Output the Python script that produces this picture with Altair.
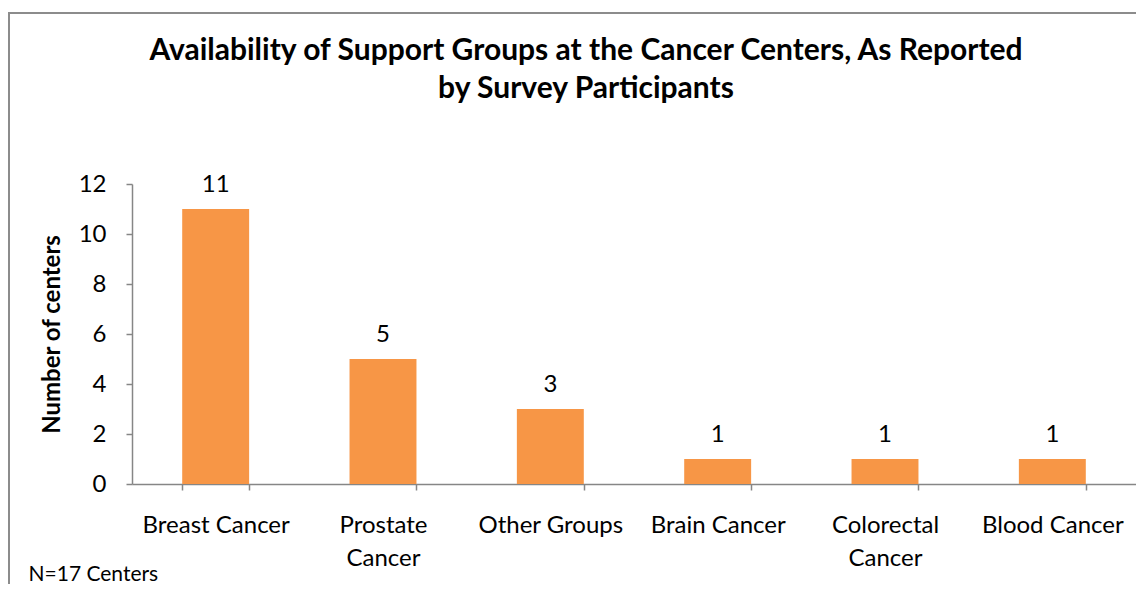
import altair as alt
import pandas as pd

categories = ["Breast Cancer", "Prostate Cancer", "Other Groups",
              "Brain Cancer", "Colorectal Cancer", "Blood Cancer"]
counts = [11, 5, 3, 1, 1, 1]
y_ticks = [0, 2, 4, 6, 8, 10, 12]
title_lines = ["Availability of Support Groups at the Cancer Centers, As Reported",
               "by Survey Participants"]
y_title = "Number of centers"
footnote = "N=17 Centers"

df = pd.DataFrame({"category": categories, "count": counts})
FONT = "Lato"
GRAY = "#868686"

one = pd.DataFrame({"k": [0]})

border = alt.Chart(one).mark_rect(
    fillOpacity=0, stroke="#8c8c8c", strokeWidth=2
).encode(
    x=alt.value(-123), x2=alt.value(1100),
    y=alt.value(-171), y2=alt.value(500)
)

title = alt.Chart(one).mark_text(
    font=FONT, fontSize=30, fontWeight="bold", color="black",
    align="center", baseline="alphabetic", lineHeight=38,
).encode(
    x=alt.value(454), y=alt.value(-124), text=alt.value(title_lines)
)

x_enc = alt.X(
    "category:N", sort=categories,
    scale=alt.Scale(paddingInner=0.6, paddingOuter=0.3),
    axis=alt.Axis(
        title=footnote, titleFont=FONT, titleFontSize=21, titleFontWeight="normal",
        titleColor="black", titleAnchor="start", titleAlign="left",
        titleBaseline="alphabetic", titleX=-104, titleY=96, titleAngle=0,
        labelAngle=0, labelFont=FONT, labelFontSize=24, labelColor="black",
        labelPadding=23, labelLineHeight=33, labelBaseline="top",
        labelExpr="length(datum.label) > 14 ? split(datum.label, ' ') : datum.label",
        tickBand="extent", tickSize=6, tickColor=GRAY, domainColor=GRAY,
        domainWidth=1.5, tickWidth=1.5,
    ),
)
y_enc = alt.Y(
    "count:Q", scale=alt.Scale(domain=[0, 12], nice=False),
    axis=alt.Axis(
        values=y_ticks, title=y_title, titleFont=FONT, titleFontSize=24,
        titleFontWeight="bold", titleColor="black", titlePadding=14,
        labelFont=FONT, labelFontSize=24, labelColor="black", labelPadding=20,
        tickSize=6, tickColor=GRAY, domainColor=GRAY, grid=False,
        domainWidth=1.5, tickWidth=1.5,
    ),
)

bars = alt.Chart(df).mark_bar(color="#F79646").encode(x=x_enc, y=y_enc)
labels = alt.Chart(df).mark_text(
    baseline="bottom", dy=-12, font=FONT, fontSize=24, color="black"
).encode(
    x=alt.X("category:N", sort=categories),
    y=alt.Y("count:Q"),
    text=alt.Text("count:Q"),
)

chart = alt.layer(border, title, bars, labels).properties(
    width=1004, height=300,
    autosize="none",
    padding={"left": 124, "top": 176, "right": 0, "bottom": 100},
).configure_view(stroke=None)

chart.save("out.html", embed_options={"renderer": "svg", "actions": False})
